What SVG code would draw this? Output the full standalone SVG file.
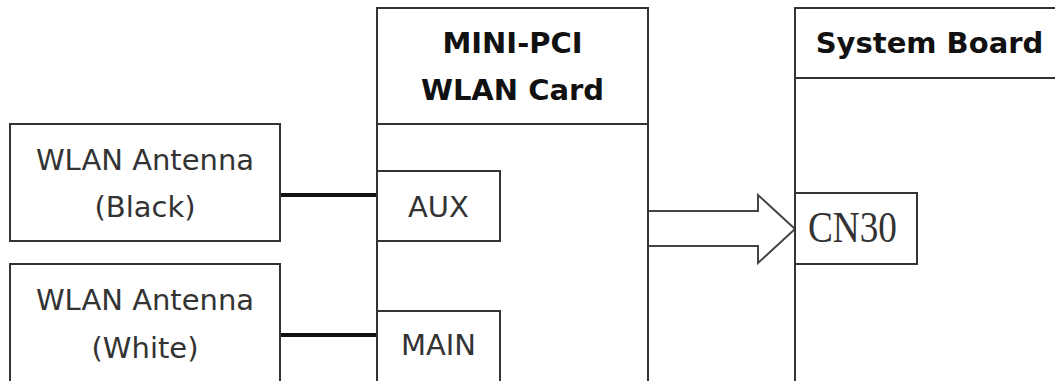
<svg xmlns="http://www.w3.org/2000/svg" width="1055" height="381" viewBox="0 0 1055 381">
<style>
.box{fill:#fff;stroke:#333;stroke-width:2}
.t{font-family:"DejaVu Sans",Verdana,sans-serif;font-size:29px;fill:#333;text-anchor:middle}
.b{font-family:"DejaVu Sans",Verdana,sans-serif;font-size:29px;font-weight:bold;fill:#111;text-anchor:middle}
.m{font-family:"Liberation Serif","Times New Roman",serif;font-size:44px;fill:#333}
.w{stroke:#111;stroke-width:4;fill:none}
</style>
<rect width="1055" height="381" fill="#fff"/>
<g id="connectors">
<line class="w" x1="280" y1="195" x2="377" y2="195"/>
<line class="w" x1="280" y1="335" x2="377" y2="335"/>
<path d="M648,211 H758 V195 L795,229 L758,263 V246 H648" fill="#fff" stroke="#444" stroke-width="2"/>
</g>
<g id="antenna-black">
<rect class="box" x="10" y="124" width="270" height="117"/>
<text class="t" x="145" y="170">WLAN Antenna</text>
<text class="t" x="145" y="217">(Black)</text>
</g>
<g id="antenna-white">
<rect class="box" x="10" y="264" width="270" height="130"/>
<text class="t" x="145" y="310">WLAN Antenna</text>
<text class="t" x="145" y="358">(White)</text>
</g>
<g id="minipci">
<rect class="box" x="377" y="8" width="271" height="390"/>
<line x1="377" y1="124" x2="648" y2="124" stroke="#333" stroke-width="2"/>
<text class="b" x="512.5" y="53">MINI-PCI</text>
<text class="b" x="512.5" y="100">WLAN Card</text>
</g>
<g id="aux">
<rect class="box" x="377" y="171" width="123" height="70"/>
<text class="t" x="438.5" y="217">AUX</text>
</g>
<g id="main">
<rect class="box" x="377" y="311" width="123" height="90"/>
<text class="t" x="438.5" y="355">MAIN</text>
</g>
<g id="systemboard">
<rect class="box" x="795" y="8" width="300" height="390"/>
<line x1="795" y1="78" x2="1055" y2="78" stroke="#333" stroke-width="2"/>
<text class="b" x="929.5" y="53">System Board</text>
</g>
<g id="cn30">
<rect class="box" x="795" y="193" width="122" height="71"/>
<text class="m" x="808" y="242" textLength="89" lengthAdjust="spacingAndGlyphs">CN30</text>
</g>
</svg>
